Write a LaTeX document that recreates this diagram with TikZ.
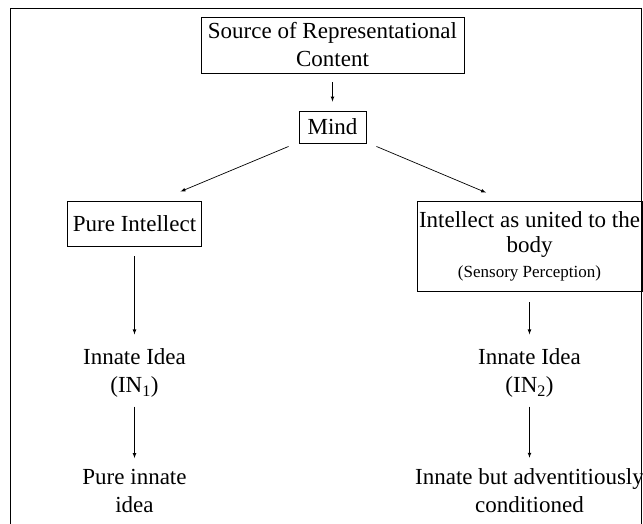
\documentclass[tikz,border=0pt]{standalone}
\usepackage{fontspec}
\setmainfont{Liberation Serif}

\begin{document}
\begin{tikzpicture}[x=1pt, y=-1pt,
	every node/.style={font=\fontsize{23}{28}\selectfont, align=center, inner sep=0pt},
	box/.style={draw, line width=0.9pt},
	link/.style={->, >=latex, line width=0.7pt}]
\useasboundingbox (0,0) rectangle (643,523);
\draw[line width=0.9pt] (10,530) -- (10,8) -- (641.5,8) -- (641.5,530);

%boxes
\node (src) at (332.5,45) [box, minimum width=263pt, minimum height=56pt] {Source of Representational\\Content};
\node (mind) at (332.5,127) [box, minimum width=67pt, minimum height=32pt] {Mind};
\node (pure) at (134.5,223.5) [box, minimum width=134pt, minimum height=45pt] {Pure Intellect};
\node (intel) at (529.5,246) [box, minimum width=225pt, minimum height=90pt, font=\fontsize{23}{25}\selectfont]
	{Intellect as united to the\\body\\{\fontsize{17}{25}\selectfont (Sensory Perception)}};

%ideas
\node (innA) at (134.5,373) {Innate Idea\\(IN\textsubscript{1})};
\node (innB) at (529.5,373) {Innate Idea\\(IN\textsubscript{2})};
\node (pureidea) at (134.5,491) {Pure innate\\idea};
\node (advidea) at (529.5,491) {Innate but adventitiously\\conditioned};

\draw[link, shorten <=9pt, shorten >=9pt] (src) -- (mind);
\draw[link] ([shift={(-10,3)}]mind.south west) -- ([shift={(46,-9)}]pure.north);
\draw[link] ([shift={(10,3)}]mind.south east) -- ([shift={(-43.5,-8)}]intel.north);

\draw[link, shorten <=10pt, shorten >=14pt] (pure) -- (innA);
\draw[link, shorten <=11pt, shorten >=14pt] (intel) -- (innB);
\draw[link, shorten <=9pt, shorten >=11pt] (innA) -- (pureidea);
\draw[link, shorten <=9pt, shorten >=11pt] (innB) -- (advidea);

\end{tikzpicture}
\end{document}
